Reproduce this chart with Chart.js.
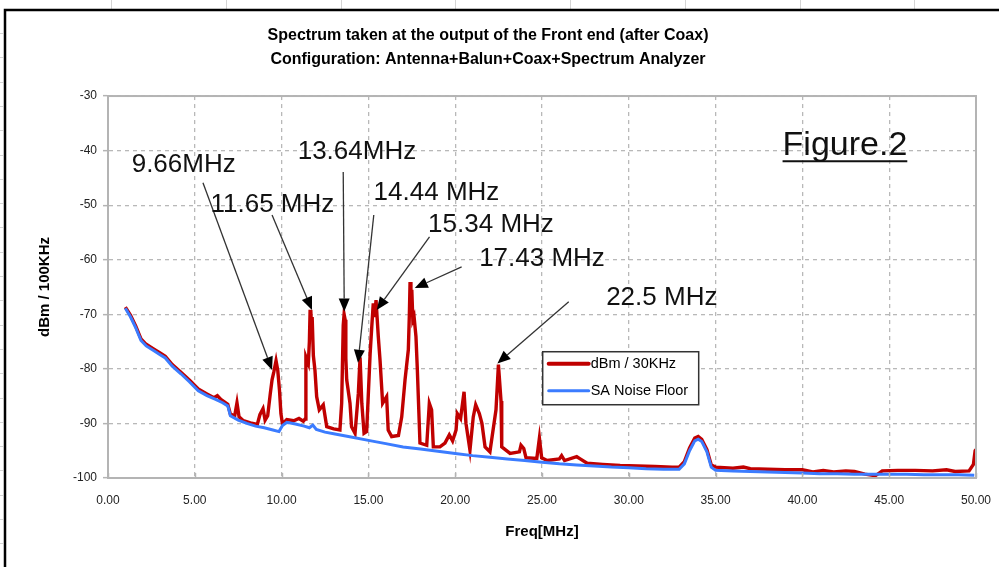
<!DOCTYPE html>
<html>
<head>
<meta charset="utf-8">
<script src="https://cdn.jsdelivr.net/npm/chart.js@4.4.1/dist/chart.umd.min.js"></script>
<style>
  html, body { margin: 0; padding: 0; background: #fff; }
  #wrap { width: 999px; height: 567px; position: relative; }
</style>
</head>
<body>
<div id="wrap"><canvas id="specChart" width="999" height="567"></canvas></div>
<script>
// measured spectrum (red) - freq in MHz, level in dBm
const sigFreq = [1.00, 1.30, 1.60, 1.90, 2.20, 2.60, 3.00, 3.30, 3.70, 4.20, 4.70, 5.20, 5.70, 6.10, 6.30, 6.50, 6.90, 7.05, 7.30, 7.43,
  7.55, 7.80, 8.20, 8.60, 8.75, 8.93, 9.05, 9.20, 9.35, 9.45, 9.55, 9.68, 9.78, 9.88, 9.96, 10.05, 10.30, 10.70, 11.00, 11.25,
  11.35, 11.40, 11.54, 11.60, 11.64, 11.68, 11.72, 11.76, 11.83, 11.92, 12.02, 12.17, 12.40, 12.60, 13.00, 13.36, 13.46, 13.55, 13.60, 13.66,
  13.70, 13.75, 13.94, 14.03, 14.23, 14.42, 14.52, 14.62, 14.75, 14.90, 15.10, 15.20, 15.28, 15.36, 15.44, 15.57, 15.67, 15.82, 16.05, 16.14,
  16.34, 16.73, 16.92, 17.11, 17.30, 17.36, 17.40, 17.45, 17.50, 17.56, 17.63, 17.74, 17.82, 17.97, 18.36, 18.51, 18.64, 18.74, 19.12, 19.41,
  19.66, 19.85, 20.05, 20.12, 20.31, 20.51, 20.62, 20.85, 21.04, 21.18, 21.39, 21.54, 21.72, 22.00, 22.35, 22.49, 22.64, 22.68, 23.16, 23.70,
  23.79, 23.95, 24.08, 24.70, 24.85, 24.98, 25.30, 26.00, 26.13, 26.30, 27.00, 27.20, 27.60, 28.50, 29.50, 30.50, 31.50, 32.50, 32.90, 33.20,
  33.50, 33.80, 34.00, 34.20, 34.50, 34.75, 35.00, 36.00, 36.60, 37.00, 38.00, 39.00, 40.00, 40.60, 41.20, 41.80, 42.50, 43.00, 43.60, 44.20,
  44.60, 45.50, 46.50, 47.50, 48.30, 48.80, 49.60, 49.85, 49.95, 50.00];
const sigDbm = [-68.7, -70.2, -72.2, -74.5, -75.5, -76.3, -77.1, -77.7, -79.2, -80.6, -82.1, -83.7, -84.6, -85.3, -84.9, -85.6, -86.5, -88.3, -88.6, -86.2,
  -88.8, -89.5, -89.9, -90.2, -88.4, -87.3, -89.4, -88.6, -84.5, -82.0, -80.6, -78.5, -80.3, -84.0, -88.2, -90.1, -89.3, -89.5, -89.1, -89.6,
  -89.2, -77.8, -79.0, -75.0, -69.5, -69.2, -72.0, -70.5, -77.6, -80.2, -85.1, -87.5, -86.6, -90.6, -91.0, -91.2, -86.3, -72.0, -70.0, -71.0,
  -78.0, -82.0, -86.3, -90.6, -91.8, -84.5, -77.9, -86.3, -91.8, -91.5, -77.2, -72.0, -68.0, -70.5, -67.4, -74.1, -78.4, -86.3, -85.1, -91.2,
  -92.4, -92.2, -88.8, -82.0, -76.5, -70.0, -64.1, -68.0, -65.5, -71.0, -70.4, -74.1, -80.2, -93.6, -94.0, -86.3, -87.5, -94.3, -94.3, -93.6,
  -92.1, -93.2, -91.2, -88.2, -89.1, -84.2, -90.0, -94.9, -88.8, -86.6, -88.2, -90.0, -94.3, -95.2, -87.5, -79.2, -85.9, -94.3, -95.5, -95.2,
  -94.0, -94.6, -96.3, -96.4, -92.7, -96.3, -96.8, -96.5, -95.9, -96.8, -96.1, -96.5, -97.3, -97.5, -97.7, -97.8, -97.9, -98.0, -98.0, -97.0,
  -94.5, -92.7, -92.4, -92.9, -94.8, -97.6, -98.0, -98.2, -98.0, -98.3, -98.4, -98.5, -98.5, -98.9, -98.6, -98.9, -98.7, -98.8, -99.3, -99.6,
  -98.7, -98.6, -98.6, -98.7, -98.5, -98.8, -98.7, -97.5, -95.0, -94.8];

// spectrum analyzer noise floor (blue)
const floorFreq = [1.00, 1.30, 1.60, 1.90, 2.20, 2.60, 3.00, 3.30, 3.70, 4.20, 4.70, 5.20, 5.70, 6.20, 6.60, 6.90, 7.05, 7.50, 8.00, 8.50,
  9.00, 9.50, 9.85, 10.05, 10.30, 10.80, 11.30, 11.60, 11.80, 12.00, 12.50, 13.00, 14.00, 15.00, 16.00, 17.00, 18.00, 19.00, 20.00, 21.00,
  22.00, 23.00, 24.00, 25.00, 26.00, 27.00, 28.00, 29.00, 30.00, 31.00, 32.00, 32.90, 33.20, 33.50, 33.80, 34.00, 34.20, 34.50, 34.75, 35.00,
  36.00, 37.00, 38.00, 39.00, 40.00, 41.00, 42.00, 43.00, 44.00, 45.00, 46.00, 47.00, 48.00, 49.00, 49.90];
const floorDbm = [-68.9, -70.5, -72.5, -74.8, -75.8, -76.6, -77.4, -78.0, -79.5, -80.9, -82.4, -84.0, -84.9, -85.6, -86.2, -86.8, -88.6, -89.4, -90.0, -90.5,
  -90.8, -91.2, -91.5, -90.4, -89.8, -90.1, -90.5, -90.8, -90.3, -91.1, -91.6, -91.9, -92.5, -93.1, -93.7, -94.3, -94.7, -95.1, -95.5, -95.9,
  -96.2, -96.5, -96.8, -97.1, -97.4, -97.6, -97.8, -98.0, -98.1, -98.3, -98.4, -98.4, -97.4, -95.0, -93.2, -92.9, -93.3, -95.2, -98.0, -98.6,
  -98.7, -98.8, -98.9, -99.0, -99.1, -99.2, -99.2, -99.3, -99.3, -99.3, -99.3, -99.4, -99.4, -99.4, -99.5];

const xTicks = [0, 5, 10, 15, 20, 25, 30, 35, 40, 45, 50];
const yTicks = [-100, -90, -80, -70, -60, -50, -40, -30];

// callout labels: text centre, arrow tail and arrow tip (MHz, dBm)
const noteText = ['9.66MHz', '11.65 MHz', '13.64MHz', '14.44 MHz', '15.34 MHz', '17.43 MHz', '22.5 MHz'];
const noteTextFreq = [4.36, 9.47, 14.34, 18.92, 22.06, 25.0, 31.9];
const noteTextDbm = [-42.6, -50.0, -40.2, -47.8, -53.6, -59.9, -67.0];
const noteTailFreq = [5.47, 9.45, 13.55, 15.31, 18.52, 20.37, 26.54];
const noteTailDbm = [-45.9, -51.8, -43.9, -51.8, -55.8, -61.3, -67.7];
const noteTipFreq = [9.45, 11.75, 13.61, 14.40, 15.48, 17.67, 22.43];
const noteTipDbm = [-80.2, -69.2, -69.5, -78.9, -69.2, -65.2, -79.0];

const FONT = "'Liberation Sans', Arial, sans-serif";
const RED = '#c00000';
const BLUE = '#3b7cff';

function toPoints(xs, ys) {
    return xs.map((f, i) => ({x: f, y: ys[i]}));
}

// sheet background + black chart frame
const framePlugin = {
    id: 'frame',
    beforeDraw(chart) {
        const ctx = chart.ctx;
        ctx.save();
        ctx.fillStyle = '#fff';
        ctx.fillRect(0, 0, chart.width, chart.height);
        ctx.strokeStyle = '#d4d4d4';
        ctx.lineWidth = 1;
        [111, 226, 341, 455, 570, 685, 800, 914].forEach(px => {
            ctx.beginPath(); ctx.moveTo(px + 0.5, 0); ctx.lineTo(px + 0.5, 9); ctx.stroke();
        });
        for (let py = 33; py < chart.height; py += 24.3) {
            ctx.beginPath(); ctx.moveTo(0, Math.round(py) + 0.5); ctx.lineTo(3, Math.round(py) + 0.5); ctx.stroke();
        }
        ctx.strokeStyle = '#000';
        ctx.lineWidth = 2.5;
        ctx.beginPath();
        ctx.moveTo(chart.width + 5, 10);
        ctx.lineTo(5, 10);
        ctx.lineTo(5, chart.height + 5);
        ctx.stroke();
        ctx.restore();
    },
    afterDatasetsDraw(chart) {
        const {ctx, chartArea: a, scales: {x}} = chart;
        ctx.save();
        ctx.strokeStyle = '#b4b4b4';
        ctx.lineWidth = 2;
        ctx.strokeRect(a.left, a.top, a.right - a.left, a.bottom - a.top);
        // short inward ticks on the freq axis
        ctx.lineWidth = 1.5;
        xTicks.forEach(v => {
            const px = Math.round(x.getPixelForValue(v)) + 0.5;
            ctx.beginPath(); ctx.moveTo(px, a.bottom); ctx.lineTo(px, a.bottom - 5); ctx.stroke();
        });
        ctx.restore();
    }
};

// callouts, Figure.2 and the legend box
const notesPlugin = {
    id: 'notes',
    afterDraw(chart) {
        const {ctx, scales: {x, y}} = chart;
        ctx.save();
        ctx.strokeStyle = '#333';
        ctx.fillStyle = '#000';
        ctx.lineWidth = 1.3;
        for (let i = 0; i < noteText.length; i++) {
            const x0 = x.getPixelForValue(noteTailFreq[i]), y0 = y.getPixelForValue(noteTailDbm[i]);
            const x1 = x.getPixelForValue(noteTipFreq[i]), y1 = y.getPixelForValue(noteTipDbm[i]);
            const ang = Math.atan2(y1 - y0, x1 - x0);
            const len = 13, half = 5.5;
            const bx = x1 - len * Math.cos(ang), by = y1 - len * Math.sin(ang);
            ctx.beginPath(); ctx.moveTo(x0, y0); ctx.lineTo(bx, by); ctx.stroke();
            ctx.beginPath();
            ctx.moveTo(x1, y1);
            ctx.lineTo(bx + half * Math.sin(ang), by - half * Math.cos(ang));
            ctx.lineTo(bx - half * Math.sin(ang), by + half * Math.cos(ang));
            ctx.closePath();
            ctx.fill();
        }
        ctx.font = '26px ' + FONT;
        ctx.textAlign = 'center';
        ctx.textBaseline = 'middle';
        ctx.fillStyle = '#111';
        for (let i = 0; i < noteText.length; i++) {
            ctx.fillText(noteText[i], x.getPixelForValue(noteTextFreq[i]), y.getPixelForValue(noteTextDbm[i]));
        }
        // Figure.2
        const fx = x.getPixelForValue(42.45), fy = y.getPixelForValue(-39.0);
        ctx.font = '34px ' + FONT;
        ctx.fillText('Figure.2', fx, fy);
        const fw = ctx.measureText('Figure.2').width;
        ctx.strokeStyle = '#111';
        ctx.lineWidth = 2;
        ctx.beginPath(); ctx.moveTo(fx - fw / 2, fy + 16); ctx.lineTo(fx + fw / 2, fy + 16); ctx.stroke();

        // legend
        const lx = x.getPixelForValue(25.04), ly = y.getPixelForValue(-76.86);
        const lw = 156, lh = 53;
        ctx.fillStyle = '#fff';
        ctx.fillRect(lx, ly, lw, lh);
        ctx.strokeStyle = '#333';
        ctx.lineWidth = 1.5;
        ctx.strokeRect(lx, ly, lw, lh);
        ctx.font = '14.5px ' + FONT;
        ctx.textAlign = 'left';
        chart.data.datasets.forEach((ds, i) => {
            const ry = ly + 12 + i * 27;
            ctx.strokeStyle = ds.borderColor;
            ctx.lineWidth = i === 0 ? 4 : 3;
            ctx.lineCap = 'round';
            ctx.beginPath(); ctx.moveTo(lx + 6, ry); ctx.lineTo(lx + 46, ry); ctx.stroke();
            ctx.fillStyle = '#000';
            ctx.fillText(ds.label, lx + 48, ry);
        });
        ctx.restore();
    }
};

const ctx = document.getElementById('specChart').getContext('2d');
const chart = new Chart(ctx, {
    type: 'line',
    data: {
        datasets: [{
            label: 'dBm / 30KHz',
            data: toPoints(sigFreq, sigDbm),
            borderColor: RED,
            backgroundColor: RED,
            borderWidth: 3.4,
            pointRadius: 0,
            tension: 0,
            order: 1
        },
        {
            label: 'SA Noise Floor',
            data: toPoints(floorFreq, floorDbm),
            borderColor: BLUE,
            backgroundColor: BLUE,
            borderWidth: 3,
            pointRadius: 0,
            tension: 0,
            order: 0
        }]
    },
    options: {
        responsive: false,
        animation: false,
        layout: { padding: { left: 0, right: 23, top: 0, bottom: 26 } },
        plugins: {
            legend: { display: false },
            tooltip: { enabled: false },
            title: {
                display: true,
                text: ['Spectrum taken at the output of the Front end (after Coax)',
                       'Configuration: Antenna+Balun+Coax+Spectrum Analyzer'],
                color: '#000',
                font: { family: FONT, size: 16, weight: 'bold', lineHeight: 1.47 },
                padding: { top: 24, bottom: 25 }
            }
        },
        scales: {
            x: {
                type: 'linear',
                min: 0,
                max: 50,
                afterBuildTicks: s => { s.ticks = xTicks.map(v => ({value: v})); },
                afterFit: s => { s.height = 63; s.paddingRight = 0; s.paddingLeft = 0; },
                grid: { color: '#b8b8b8', lineWidth: 1.3, drawTicks: false },
                border: { display: true, color: '#b4b4b4', width: 2, dash: [4, 4] },
                ticks: {
                    padding: 15,
                    color: '#222',
                    font: { family: FONT, size: 12 },
                    callback: v => Number(v).toFixed(2)
                },
                title: {
                    display: true,
                    text: 'Freq[MHz]',
                    color: '#000',
                    font: { family: FONT, size: 15, weight: 'bold', lineHeight: 1.2 },
                    padding: { top: 15.6, bottom: 0 }
                }
            },
            y: {
                min: -100,
                max: -30,
                afterBuildTicks: s => { s.ticks = yTicks.map(v => ({value: v})); },
                afterFit: s => { s.width = 108; },
                grid: { color: '#b8b8b8', lineWidth: 1.3, tickLength: 5, tickColor: '#b4b4b4', tickWidth: 1.5 },
                border: { display: true, color: '#b4b4b4', width: 2, dash: [4, 4] },
                ticks: {
                    padding: 6,
                    color: '#222',
                    font: { family: FONT, size: 12 },
                    callback: v => String(v)
                },
                title: {
                    display: true,
                    text: 'dBm / 100KHz',
                    color: '#000',
                    font: { family: FONT, size: 15, weight: 'bold', lineHeight: 1.2 },
                    padding: { top: 36, bottom: 0 }
                }
            }
        }
    },
    plugins: [framePlugin, notesPlugin]
});
</script>
</body>
</html>
